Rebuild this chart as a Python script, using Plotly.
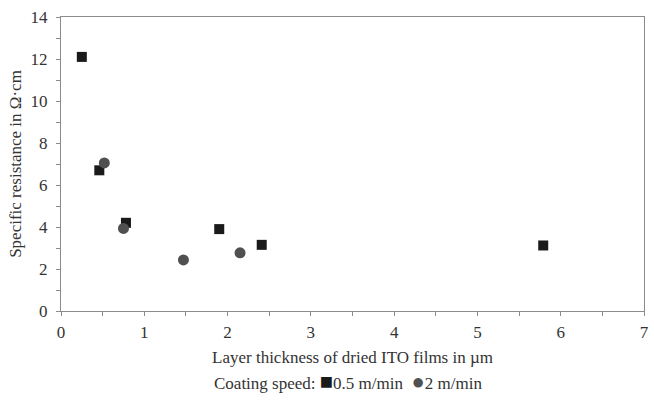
import plotly.graph_objects as go

# Layer thickness (µm) and specific resistance (Ω·cm) per coating speed
thickness_05 = [0.25, 0.46, 0.78, 1.90, 2.41, 5.79]
resistance_05 = [12.1, 6.7, 4.2, 3.9, 3.15, 3.12]

thickness_2 = [0.52, 0.75, 1.47, 2.15]
resistance_2 = [7.05, 3.93, 2.43, 2.77]

series_names = ["0.5 m/min", "2 m/min"]
legend_title = "Coating speed:"
x_title = "Layer thickness of dried ITO films in µm"
y_title = "Specific resistance in Ω·cm"

FONT = "Liberation Serif, Times New Roman, serif"
TEXT = "#333333"
AXIS = "#8c8c8c"
SQ_COLOR = "#1a1a1a"
CI_COLOR = "#505050"

fig = go.Figure()
fig.add_trace(go.Scatter(
    x=thickness_05, y=resistance_05, mode="markers", name=series_names[0],
    marker=dict(symbol="square", size=10, color=SQ_COLOR),
    showlegend=False,
))
fig.add_trace(go.Scatter(
    x=thickness_2, y=resistance_2, mode="markers", name=series_names[1],
    marker=dict(symbol="circle", size=11, color=CI_COLOR),
    showlegend=False,
))

axis_common = dict(
    showline=True, linecolor=AXIS, linewidth=1, mirror=True,
    showgrid=False, zeroline=False,
    ticks="outside", ticklen=4, tickcolor=AXIS, tickwidth=1,
    tickfont=dict(family=FONT, size=17, color=TEXT),
)

fig.update_xaxes(
    range=[0, 7], dtick=1, tick0=0,
    minor=dict(dtick=0.5, ticks="outside", ticklen=4, tickcolor=AXIS, showgrid=False),
    title=dict(text=x_title, font=dict(family=FONT, size=17, color=TEXT), standoff=9),
    ticklabelstandoff=2,
    **axis_common,
)
fig.update_yaxes(
    range=[0, 14], dtick=2, tick0=0,
    minor=dict(dtick=1, ticks="outside", ticklen=4, tickcolor=AXIS, showgrid=False),
    title=dict(text=y_title, font=dict(family=FONT, size=17, color=TEXT), standoff=4),
    ticklabelstandoff=5,
    **axis_common,
)

# Legend line built from the series names with matching marker glyphs
legend_text = (
    f"{legend_title} "
    f"<span style='color:{SQ_COLOR};font-size:22px'>■</span>{series_names[0]}  "
    f"<span style='color:{CI_COLOR};font-size:22px'>●</span>{series_names[1]}"
)
fig.add_annotation(
    text=legend_text, xref="paper", yref="paper",
    x=(350 - 61) / 588, y=-(381 - 311) / 294,
    xanchor="center", yanchor="middle", showarrow=False,
    font=dict(family=FONT, size=17, color=TEXT),
)

fig.update_layout(
    width=654, height=400,
    margin=dict(l=61, r=5, t=17, b=89),
    paper_bgcolor="white", plot_bgcolor="white",
    font=dict(family=FONT, size=17, color=TEXT),
)

fig.write_html("out.html")
